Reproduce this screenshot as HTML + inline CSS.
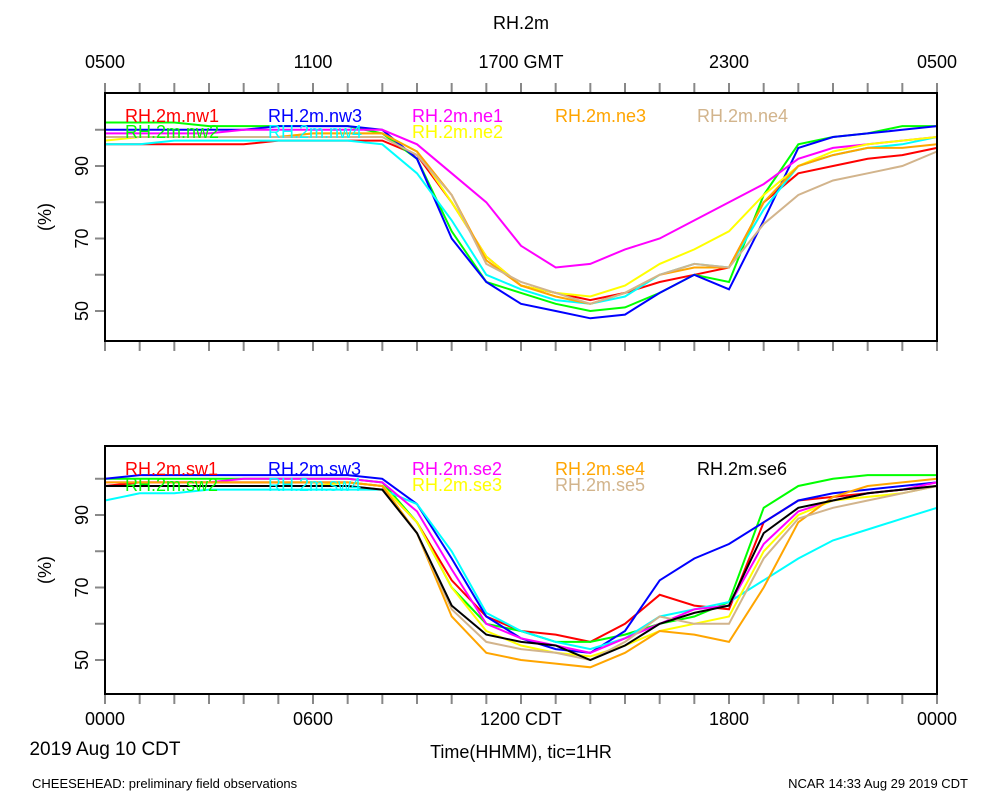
<!DOCTYPE html>
<html><head><meta charset="utf-8"><style>
body{margin:0;background:#fff;width:1000px;height:800px;overflow:hidden;font-family:"Liberation Sans",sans-serif}
</style></head><body>
<svg id="chart" width="1000" height="800" xmlns="http://www.w3.org/2000/svg" font-family="Liberation Sans, sans-serif">
<text x="521" y="29" font-size="18" text-anchor="middle">RH.2m</text>
<g id="top"></g>
<g id="bot"></g>
<text x="105" y="755" font-size="19" text-anchor="middle">2019 Aug 10 CDT</text>
<text x="521" y="758" font-size="18" text-anchor="middle">Time(HHMM), tic=1HR</text>
<text x="32" y="788" font-size="13">CHEESEHEAD: preliminary field observations</text>
<text x="968" y="788" font-size="13" text-anchor="end">NCAR 14:33 Aug 29 2019 CDT</text>
</svg>
<script>
const hours=[0,1,2,3,4,5,6,7,8,9,10,11,12,13,14,15,16,17,18,19,20,21,22,23,24];
const topNames=["RH.2m.nw1","RH.2m.nw2","RH.2m.nw3","RH.2m.nw4","RH.2m.ne1","RH.2m.ne2","RH.2m.ne3","RH.2m.ne4"];
const topColors=["#ff0000","#00ff00","#0000ff","#00ffff","#ff00ff","#ffff00","#ffa500","#d2b48c"];
const nw1=[96,96,96,96,96,97,97,97,97,93,80,65,57,55,53,55,58,60,62,80,88,90,92,93,95];
const nw2=[102,102,102,101,101,101,101,101,99,92,72,58,55,52,50,51,55,60,58,82,96,98,99,101,101];
const nw3=[100,100,100,100,100,101,101,101,100,92,70,58,52,50,48,49,55,60,56,75,95,98,99,100,101];
const nw4=[96,96,97,97,97,97,97,97,96,88,75,60,56,53,52,54,60,63,62,78,90,93,95,96,98];
const ne1=[99,99,99,99,100,100,100,100,100,96,88,80,68,62,63,67,70,75,80,85,92,95,96,97,98];
const ne2=[97,98,98,98,98,98,99,99,99,94,80,65,57,55,54,57,63,67,72,82,90,94,96,97,98];
const ne3=[98,98,98,98,98,98,99,99,99,94,82,64,57,54,52,55,60,62,62,80,90,93,95,95,96];
const ne4=[98,98,98,98,98,98,98,98,98,93,82,63,58,55,52,55,60,63,62,74,82,86,88,90,94];
const botNames=["RH.2m.sw1","RH.2m.sw2","RH.2m.sw3","RH.2m.sw4","RH.2m.se2","RH.2m.se3","RH.2m.se4","RH.2m.se5","RH.2m.se6"];
const botColors=["#ff0000","#00ff00","#0000ff","#00ffff","#ff00ff","#ffff00","#ffa500","#d2b48c","#000000"];
const sw1=[98,99,99,99,99,99,99,99,98,88,72,62,58,57,55,60,68,65,64,88,94,95,96,97,98];
const sw2=[100,100,100,100,100,100,100,100,99,88,70,60,58,55,55,57,60,62,66,92,98,100,101,101,101];
const sw3=[100,101,101,101,101,101,101,101,100,93,78,62,56,53,52,58,72,78,82,88,94,96,97,98,99];
const sw4=[94,96,96,97,97,97,97,97,97,93,80,63,58,55,53,56,62,64,66,72,78,83,86,89,92];
const se2=[99,99,99,99,100,100,100,100,99,91,75,60,56,54,52,56,60,64,65,82,91,94,96,97,99];
const se3=[98,98,98,98,98,98,98,99,98,88,70,58,54,52,51,54,58,60,62,80,90,94,95,96,98];
const se4=[99,99,99,99,99,99,99,99,98,85,62,52,50,49,48,52,58,57,55,70,88,95,98,99,100];
const se5=[98,98,98,98,98,98,98,98,97,85,64,55,53,52,50,55,62,60,60,78,89,92,94,96,98];
const se6=[98,98,98,98,98,98,98,98,97,85,65,57,55,54,50,54,60,63,65,85,92,94,96,97,98];
const yTicks=[50,60,70,80,90,100];
const yLabels=["50","70","90"];
const topXLabels=["0500","1100","1700 GMT","2300","0500"];
const botXLabels=["0000","0600","1200 CDT","1800","0000"];
const topSeries=[nw1,nw2,nw3,nw4,ne1,ne2,ne3,ne4];
const botSeries=[sw1,sw2,sw3,sw4,se2,se3,se4,se5,se6];
const NS="http://www.w3.org/2000/svg";
const X0=105,X1=937;
const xs=h=>X0+(X1-X0)*h/24;
function mk(p,t,a){const e=document.createElementNS(NS,t);for(const k in a)e.setAttribute(k,a[k]);p.appendChild(e);return e;}
function panel(g,top,bottom,y50,y90,series,names,colors,xl,showTop,legY){
  const ys=v=>y50+(y90-y50)*(v-50)/40;
  for(let h=0;h<=24;h++){
    const t=mk(g,"line",{x1:xs(h),x2:xs(h),y1:bottom,y2:bottom+10,stroke:"#888","stroke-width":2});
    
    if(showTop){const t2=mk(g,"line",{x1:xs(h),x2:xs(h),y1:top-10,y2:top,stroke:"#888","stroke-width":2});
    }
  }
  yTicks.forEach(v=>{const t=mk(g,"line",{x1:X0-10,x2:X0,y1:ys(v),y2:ys(v),stroke:"#888","stroke-width":2});
    });
  yLabels.forEach(s=>{const y=ys(+s);const t=mk(g,"text",{x:0,y:0,"font-size":18,"text-anchor":"middle",transform:`translate(88,${y}) rotate(-90)`});
    t.textContent=s;});
  const yt=mk(g,"text",{x:0,y:0,"font-size":18,"text-anchor":"middle",transform:`translate(51,${(top+bottom)/2}) rotate(-90)`});
  yt.textContent="(%)";
  series.forEach((s,i)=>{
    const pts=s.map((v,j)=>xs(hours[j]).toFixed(1)+","+ys(v).toFixed(1)).join(" ");
    const l=mk(g,"polyline",{points:pts,fill:"none",stroke:colors[i],"stroke-width":2});
    
    
  });
  const fr=mk(g,"rect",{x:X0,y:top,width:X1-X0,height:bottom-top,fill:"none",stroke:"#000","stroke-width":2});
  
  const lx=[125,268,412,555,697];
  names.forEach((n,i)=>{
    let col,row;
    if(i<2){col=0;row=i;}else if(i<4){col=1;row=i-2;}
    else{const k=i-4; if(names.length===8){col=[2,2,3,4][k];row=[0,1,0,0][k];}else{col=[2,2,3,3,4][k];row=[0,1,0,1,0][k];}}
    const t=mk(g,"text",{x:lx[col],y:legY+row*16,"font-size":18,fill:colors[i]});
    t.textContent=n;
  });
  xl.forEach((s,i)=>{
    const t=mk(g,"text",{x:xs(i*6),y:showTop?top-25:bottom+31,"font-size":18,"text-anchor":"middle"});
    t.textContent=s;
  });
}
panel(document.getElementById("top"),93,341,311,166,topSeries,topNames,topColors,topXLabels,true,122);
panel(document.getElementById("bot"),446,694,660,515,botSeries,botNames,botColors,botXLabels,false,475);
</script>
</body></html>
